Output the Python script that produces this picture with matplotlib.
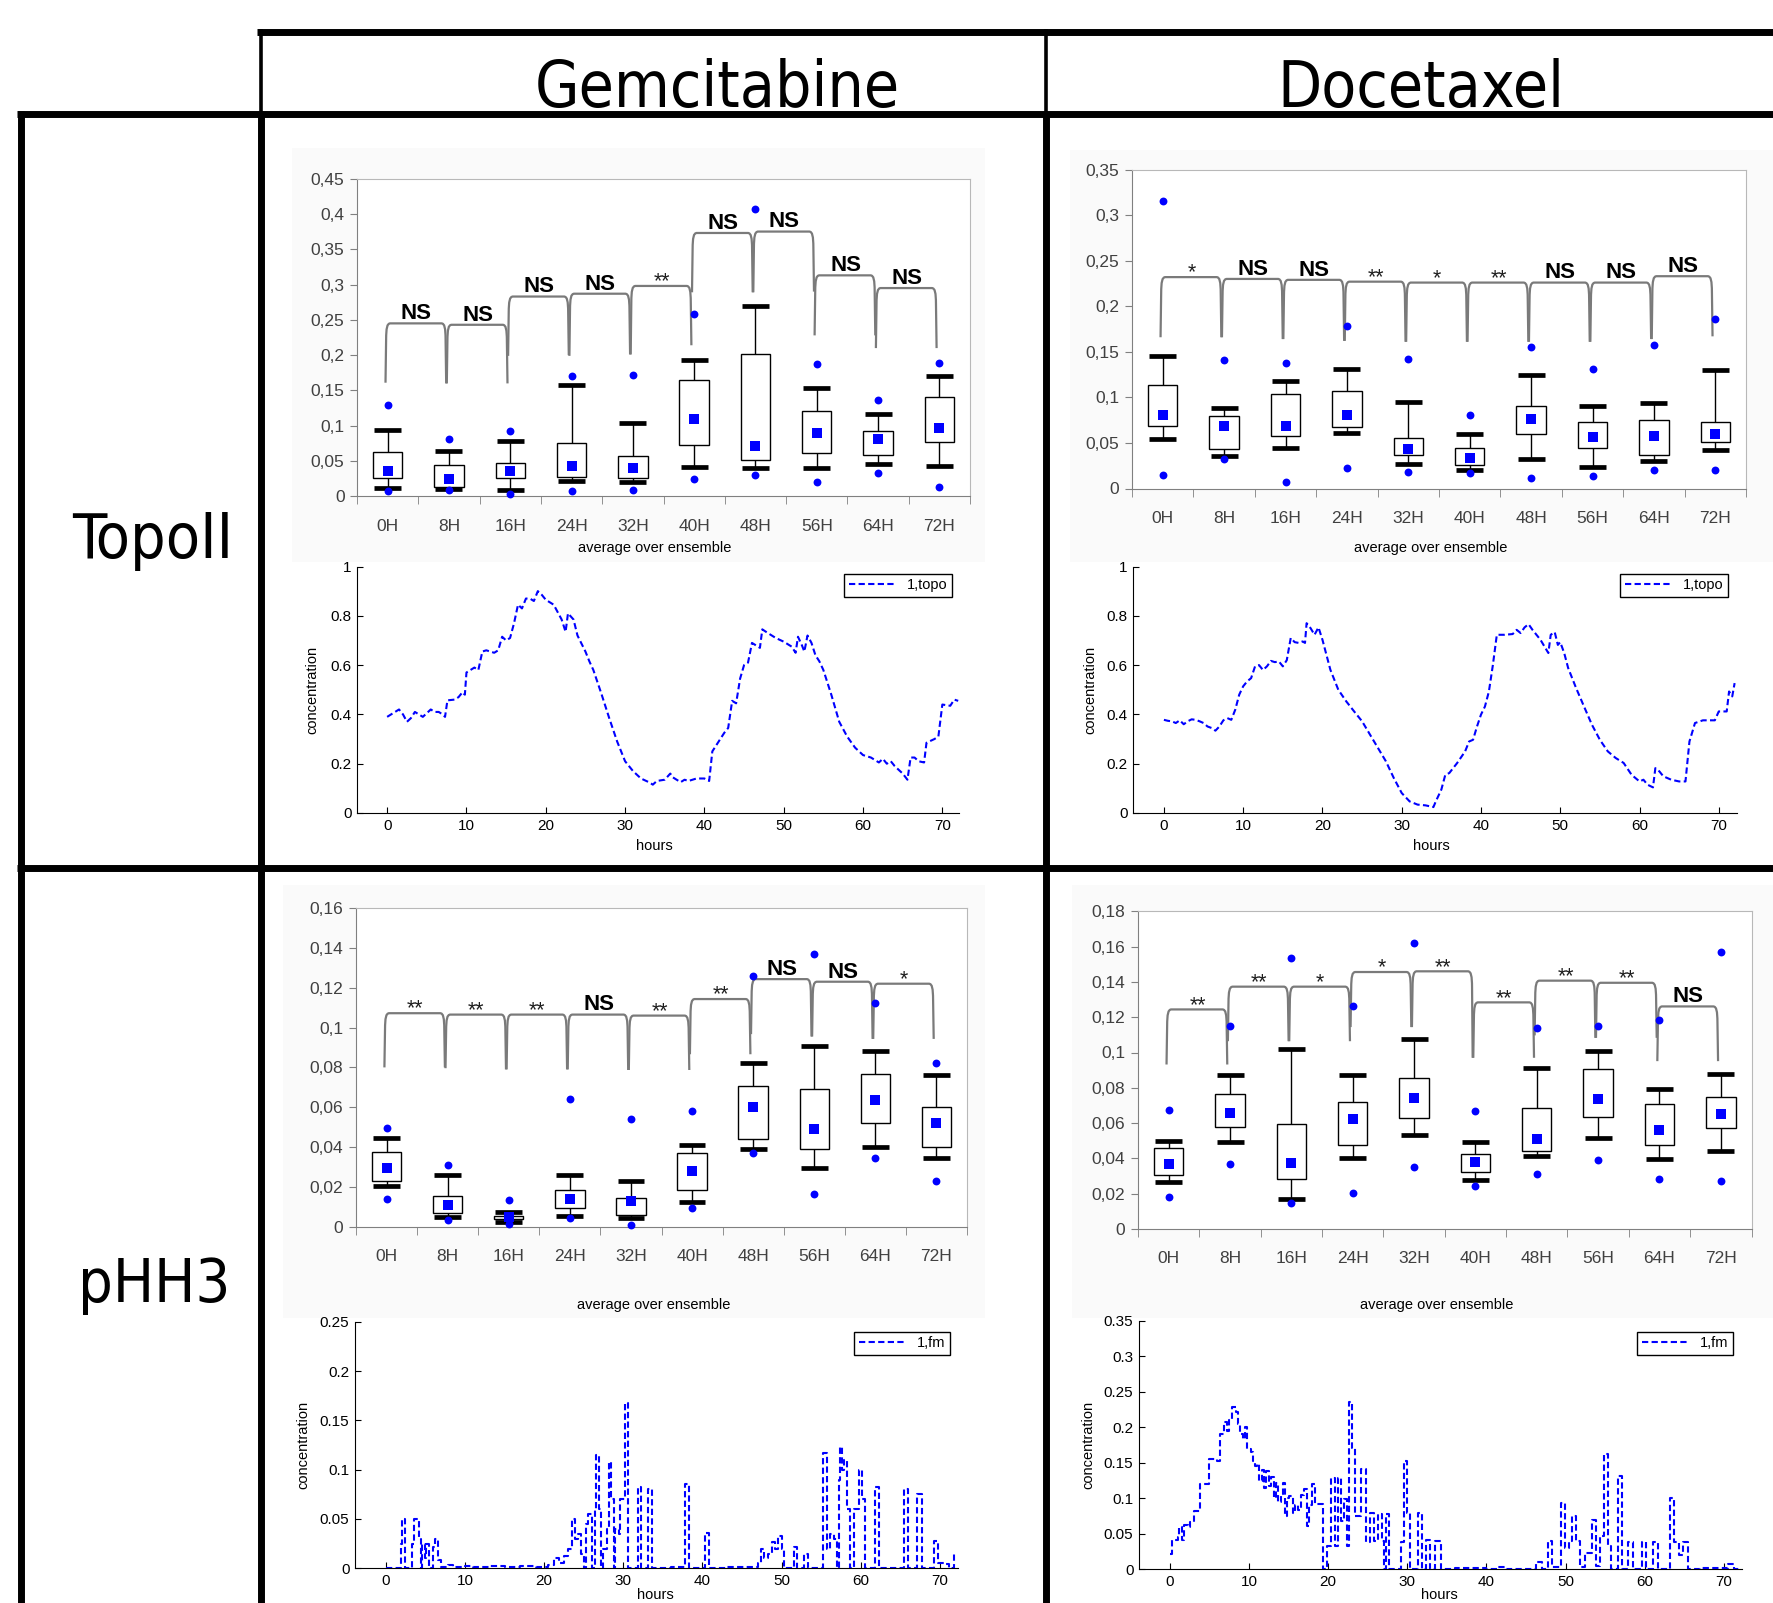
import numpy as np
import matplotlib
matplotlib.use("Agg")
import matplotlib.pyplot as plt
from matplotlib.lines import Line2D
from matplotlib.patches import PathPatch, Rectangle
from matplotlib.path import Path

plt.rcParams["font.family"] = ["Liberation Sans", "DejaVu Sans"]

W, H = 1773, 1603
BIG_FONT = ["DejaVu Sans Condensed", "DejaVu Sans"]
BLUE = "#0000ff"

drugs = ["Gemcitabine", "Docetaxel"]
row_names = ["TopoII", "pHH3"]
categories = ["0H", "8H", "16H", "24H", "32H", "40H", "48H", "56H", "64H", "72H"]

# ---- box plots: Gemcitabine / TopoII
gem_topo_hi = [0.094, 0.064, 0.079, 0.158, 0.104, 0.193, 0.270, 0.153, 0.116, 0.170]
gem_topo_q3 = [0.063, 0.044, 0.047, 0.075, 0.057, 0.165, 0.201, 0.121, 0.093, 0.141]
gem_topo_q1 = [0.026, 0.014, 0.026, 0.0275, 0.026, 0.073, 0.051, 0.061, 0.059, 0.077]
gem_topo_lo = [0.012, 0.010, 0.0085, 0.022, 0.020, 0.041, 0.040, 0.040, 0.046, 0.043]
gem_topo_mean = [0.036, 0.024, 0.036, 0.043, 0.040, 0.110, 0.072, 0.090, 0.081, 0.097]
gem_topo_max = [0.130, 0.081, 0.092, 0.170, 0.172, 0.258, 0.407, 0.187, 0.136, 0.189]
gem_topo_min = [0.007, 0.0085, 0.004, 0.007, 0.0085, 0.024, 0.030, 0.020, 0.033, 0.014]
gem_topo_br_top = [0.245, 0.243, 0.283, 0.287, 0.298, 0.373, 0.375, 0.313, 0.295]
gem_topo_br_left = [0.161, 0.160, 0.199, 0.199, 0.201, 0.289, 0.289, 0.228, 0.210]
gem_topo_br_right = [0.160, 0.160, 0.200, 0.201, 0.214, 0.289, 0.290, 0.228, 0.210]
gem_topo_sig = ["NS", "NS", "NS", "NS", "**", "NS", "NS", "NS", "NS"]

# ---- box plots: Docetaxel / TopoII
doc_topo_hi = [0.145, 0.088, 0.118, 0.131, 0.095, 0.060, 0.125, 0.090, 0.094, 0.130]
doc_topo_q3 = [0.114, 0.080, 0.104, 0.107, 0.0555, 0.044, 0.091, 0.073, 0.075, 0.073]
doc_topo_q1 = [0.069, 0.043, 0.058, 0.067, 0.0365, 0.026, 0.060, 0.044, 0.0365, 0.0515]
doc_topo_lo = [0.054, 0.036, 0.044, 0.061, 0.027, 0.020, 0.032, 0.024, 0.030, 0.042]
doc_topo_mean = [0.081, 0.069, 0.069, 0.081, 0.043, 0.034, 0.076, 0.057, 0.058, 0.060]
doc_topo_max = [0.316, 0.141, 0.138, 0.178, 0.142, 0.081, 0.155, 0.131, 0.157, 0.186]
doc_topo_min = [0.015, 0.032, 0.0066, 0.023, 0.018, 0.017, 0.012, 0.014, 0.020, 0.020]
doc_topo_br_top = [0.232, 0.230, 0.229, 0.227, 0.226, 0.226, 0.226, 0.226, 0.233]
doc_topo_br_left = [0.166, 0.166, 0.164, 0.162, 0.161, 0.161, 0.161, 0.161, 0.164]
doc_topo_br_right = [0.166, 0.164, 0.162, 0.161, 0.161, 0.161, 0.161, 0.164, 0.167]
doc_topo_sig = ["*", "NS", "NS", "**", "*", "**", "NS", "NS", "NS"]

# ---- box plots: Gemcitabine / pHH3
gem_phh3_hi = [0.0444, 0.0258, 0.0072, 0.0258, 0.0230, 0.0409, 0.0823, 0.0905, 0.088, 0.0764]
gem_phh3_q3 = [0.0377, 0.0156, 0.0054, 0.0186, 0.0147, 0.0370, 0.0707, 0.069, 0.0766, 0.0603]
gem_phh3_q1 = [0.0231, 0.0070, 0.0037, 0.0092, 0.0057, 0.0186, 0.0441, 0.0389, 0.0523, 0.0402]
gem_phh3_lo = [0.0204, 0.0050, 0.0023, 0.0054, 0.0045, 0.0124, 0.039, 0.0293, 0.0402, 0.0343]
gem_phh3_mean = [0.0293, 0.0107, 0.0047, 0.0141, 0.0129, 0.0281, 0.060, 0.0489, 0.0635, 0.0519]
gem_phh3_max = [0.0496, 0.031, 0.0137, 0.0642, 0.0541, 0.0583, 0.1258, 0.1369, 0.1122, 0.0821]
gem_phh3_min = [0.0141, 0.0034, 0.0012, 0.0045, 0.0007, 0.0095, 0.0372, 0.0164, 0.0343, 0.0228]
gem_phh3_br_top = [0.1072, 0.1065, 0.1065, 0.1065, 0.106, 0.1143, 0.1243, 0.123, 0.122]
gem_phh3_br_left = [0.080, 0.0796, 0.079, 0.079, 0.0787, 0.0866, 0.0967, 0.0955, 0.0943]
gem_phh3_br_right = [0.080, 0.079, 0.079, 0.0787, 0.0787, 0.0866, 0.0955, 0.0943, 0.0943]
gem_phh3_sig = ["**", "**", "**", "NS", "**", "**", "NS", "NS", "*"]

# ---- box plots: Docetaxel / pHH3
doc_phh3_hi = [0.0501, 0.0874, 0.1019, 0.0874, 0.1078, 0.0495, 0.0915, 0.1006, 0.0796, 0.0881]
doc_phh3_q3 = [0.0458, 0.0766, 0.0596, 0.0718, 0.0858, 0.0425, 0.0686, 0.0909, 0.0709, 0.0747]
doc_phh3_q1 = [0.0306, 0.0577, 0.0284, 0.0478, 0.063, 0.0321, 0.0441, 0.0637, 0.0478, 0.0571]
doc_phh3_lo = [0.0265, 0.0495, 0.017, 0.0403, 0.0535, 0.028, 0.0416, 0.0514, 0.0397, 0.0442]
doc_phh3_mean = [0.0369, 0.0658, 0.0374, 0.0624, 0.0741, 0.0382, 0.0509, 0.0737, 0.0562, 0.0652]
doc_phh3_max = [0.0677, 0.115, 0.1535, 0.1261, 0.1622, 0.0671, 0.1136, 0.115, 0.1182, 0.1569]
doc_phh3_min = [0.018, 0.0369, 0.0147, 0.0202, 0.0352, 0.0246, 0.031, 0.039, 0.0284, 0.0274]
doc_phh3_br_top = [0.1244, 0.1373, 0.1373, 0.1456, 0.146, 0.1284, 0.1407, 0.1395, 0.1261]
doc_phh3_br_left = [0.0932, 0.1064, 0.1064, 0.1144, 0.1144, 0.097, 0.1097, 0.1083, 0.0951]
doc_phh3_br_right = [0.0932, 0.1064, 0.1064, 0.1144, 0.097, 0.097, 0.1083, 0.1083, 0.0951]
doc_phh3_sig = ["**", "**", "*", "*", "**", "**", "**", "**", "NS"]

# ---- simulated ensemble averages
gem_topo_hours = [0, 0.5, 1, 1.5, 2, 2.5, 3, 3.5, 4, 4.5, 5, 5.5, 6, 6.5, 7, 7.3, 7.6, 8.5, 9, 9.5,
                  9.8, 10, 10.5, 11, 11.5, 12, 12.5, 13, 13.5, 14, 14.5, 15, 15.5, 16, 16.5, 17,
                  17.5, 18, 18.5, 19, 19.5, 20, 21, 22, 22.5, 22.8, 23.5, 24, 25, 25.5, 26, 27,
                  28, 29, 30, 31, 32, 33, 33.5, 34, 35, 35.7, 36, 37, 37.5, 38, 39, 40, 40.6, 41,
                  42, 42.5, 43, 43.5, 44, 44.5, 45, 45.5, 46, 46.5, 47, 47.3, 48, 49, 50, 51, 51.5,
                  51.8, 52.3, 52.6, 53, 53.5, 54, 54.5, 55, 56, 57, 58, 59, 60, 61, 62, 62.5, 63,
                  63.5, 64, 65, 65.6, 66, 66.5, 67, 67.7, 68, 69, 69.5, 70, 71, 71.5, 72]
gem_topo_conc = [0.39, 0.40, 0.41, 0.42, 0.40, 0.37, 0.385, 0.41, 0.40, 0.39, 0.405, 0.42, 0.41,
                 0.41, 0.40, 0.39, 0.457, 0.46, 0.47, 0.49, 0.48, 0.57, 0.58, 0.59, 0.58, 0.655,
                 0.66, 0.655, 0.65, 0.66, 0.715, 0.70, 0.71, 0.77, 0.845, 0.83, 0.87, 0.87, 0.86,
                 0.90, 0.885, 0.865, 0.845, 0.785, 0.735, 0.81, 0.785, 0.72, 0.655, 0.615, 0.58,
                 0.485, 0.385, 0.29, 0.21, 0.17, 0.14, 0.125, 0.115, 0.13, 0.135, 0.16, 0.145,
                 0.125, 0.135, 0.13, 0.14, 0.14, 0.13, 0.25, 0.30, 0.325, 0.345, 0.455, 0.445,
                 0.545, 0.60, 0.61, 0.69, 0.68, 0.67, 0.745, 0.73, 0.71, 0.695, 0.675, 0.65,
                 0.715, 0.68, 0.655, 0.72, 0.69, 0.64, 0.615, 0.58, 0.48, 0.37, 0.31, 0.265,
                 0.235, 0.225, 0.205, 0.22, 0.20, 0.21, 0.19, 0.16, 0.135, 0.225, 0.225, 0.21,
                 0.205, 0.285, 0.30, 0.31, 0.44, 0.435, 0.46, 0.455]

doc_topo_hours = [0, 0.5, 1, 1.5, 2, 2.5, 3, 3.5, 4, 4.5, 5, 5.5, 6, 6.5, 7, 7.5, 8, 8.5, 9, 9.5,
                  10, 10.5, 11, 11.5, 12, 12.5, 13, 13.5, 14, 14.5, 15, 15.5, 16, 16.5, 17, 17.5,
                  17.8, 18, 18.5, 19, 19.5, 20, 20.5, 21, 22, 23, 24, 25, 26, 27, 28, 29, 30, 31,
                  32, 33, 34, 34.3, 35, 35.5, 36, 37, 38, 38.5, 39, 39.5, 40, 40.5, 41, 41.5, 42,
                  43, 44, 44.5, 45, 45.5, 46, 46.5, 47, 47.5, 48, 48.5, 48.8, 49.3, 49.7, 50, 50.5,
                  51, 52, 53, 54, 55, 56, 57, 58, 59, 60, 60.5, 61, 61.7, 62, 62.5, 63, 64, 65,
                  65.8, 66.3, 67, 68, 69, 69.5, 70, 71, 71.3, 71.7, 72]
doc_topo_conc = [0.378, 0.374, 0.372, 0.365, 0.376, 0.36, 0.372, 0.38, 0.378, 0.372, 0.365, 0.351,
                 0.345, 0.334, 0.351, 0.376, 0.385, 0.378, 0.419, 0.48, 0.514, 0.534, 0.547, 0.595,
                 0.60, 0.58, 0.595, 0.617, 0.612, 0.615, 0.595, 0.62, 0.71, 0.693, 0.69, 0.696,
                 0.69, 0.77, 0.75, 0.723, 0.753, 0.703, 0.642, 0.581, 0.50, 0.453, 0.412, 0.372,
                 0.318, 0.264, 0.21, 0.142, 0.081, 0.047, 0.034, 0.031, 0.024, 0.047, 0.095, 0.155,
                 0.162, 0.203, 0.25, 0.29, 0.297, 0.351, 0.399, 0.432, 0.493, 0.60, 0.723, 0.723,
                 0.726, 0.743, 0.73, 0.753, 0.766, 0.743, 0.723, 0.703, 0.676, 0.649, 0.723, 0.734,
                 0.682, 0.693, 0.649, 0.588, 0.507, 0.432, 0.358, 0.297, 0.25, 0.223, 0.203, 0.155,
                 0.128, 0.135, 0.115, 0.104, 0.182, 0.169, 0.149, 0.135, 0.128, 0.128, 0.29, 0.365,
                 0.376, 0.376, 0.376, 0.412, 0.412, 0.493, 0.473, 0.527]

gem_phh3_hours = [0, 1.9, 2.1, 2.4, 3.3, 3.6, 4.2, 4.5, 4.6, 5.0, 5.1, 5.5, 5.9, 6.2, 6.6, 7.0, 7.8,
                  8.5, 10, 11, 13, 15, 17, 19, 20.5, 21.3, 21.9, 22.5, 23.0, 23.5, 23.9, 24.3, 24.7,
                  25.0, 25.3, 25.6, 26.0, 26.4, 26.6, 26.9, 27.2, 27.5, 27.9, 28.2, 28.5, 28.8,
                  29.0, 29.4, 29.6, 30.2, 30.6, 31.8, 32.2, 33.1, 33.6, 36, 37.8, 38.3, 40.3, 40.8,
                  43, 45, 47.0, 47.4, 47.8, 48.3, 48.8, 49.2, 49.6, 50.0, 50.3, 51.6, 52.0, 52.9,
                  53.3, 55.3, 55.8, 56.1, 56.6, 57.0, 57.2, 57.4, 57.7, 57.9, 58.3, 58.6, 59.2,
                  59.8, 60.2, 60.5, 61.8, 62.3, 65.5, 66.0, 67.1, 67.7, 69.3, 69.8, 70.6, 71.2,
                  71.8, 72.0]
gem_phh3_conc = [0.0005, 0.025, 0.05, 0.0, 0.025, 0.05, 0.03, 0.0, 0.025, 0.01, 0.025, 0.0, 0.022,
                 0.03, 0.008, 0.001, 0.003, 0.001, 0.002, 0.001, 0.002, 0.001, 0.002, 0.001, 0.003,
                 0.01, 0.005, 0.012, 0.02, 0.05, 0.03, 0.035, 0.015, 0.0, 0.045, 0.055, 0.0, 0.06,
                 0.115, 0.06, 0.0, 0.02, 0.04, 0.108, 0.07, 0.0, 0.04, 0.035, 0.07, 0.168, 0.0,
                 0.082, 0.0, 0.08, 0.0, 0.001, 0.085, 0.0, 0.036, 0.0, 0.001, 0.001, 0.005, 0.02,
                 0.01, 0.015, 0.027, 0.02, 0.033, 0.02, 0.0, 0.022, 0.0, 0.015, 0.0, 0.117, 0.02,
                 0.035, 0.03, 0.0, 0.09, 0.123, 0.1, 0.11, 0.06, 0.0, 0.06, 0.1, 0.07, 0.0, 0.082,
                 0.0, 0.08, 0.0, 0.075, 0.0, 0.028, 0.005, 0.004, 0.0, 0.015, 0.015]

doc_phh3_hours = [0, 0.3, 1.0, 1.2, 1.5, 1.8, 2.3, 2.6, 3.0, 3.8, 4.9, 6.0, 6.3, 6.8, 7.2, 7.5, 7.8,
                  8.3, 8.6, 8.9, 9.2, 9.5, 9.8, 10.2, 10.5, 10.8, 11.0, 11.3, 11.6, 11.9, 12.1,
                  12.5, 12.8, 13.1, 13.4, 13.7, 14.0, 14.3, 14.6, 14.8, 15.1, 15.5, 15.8, 16.2,
                  16.6, 17.0, 17.3, 17.6, 18.0, 18.3, 19.3, 19.8, 20.4, 20.9, 21.2, 21.6, 22.0,
                  22.4, 22.7, 23.0, 23.4, 24.2, 24.8, 25.3, 25.8, 26.3, 26.8, 27.0, 27.3, 27.7,
                  29.2, 29.6, 30.0, 30.3, 31.3, 31.8, 32.4, 32.9, 33.5, 34.2, 36, 40, 41.5, 42.5,
                  46.3, 47.0, 47.8, 48.3, 49.4, 49.9, 50.4, 50.8, 51.3, 51.8, 52.5, 53.3, 53.8,
                  54.3, 54.9, 55.4, 55.8, 56.6, 57.1, 57.9, 58.5, 59.6, 60.2, 61.1, 61.7, 63.2,
                  63.7, 64.3, 64.9, 65.5, 67, 70.5, 71.3, 72]
doc_phh3_conc = [0.021, 0.042, 0.045, 0.059, 0.042, 0.063, 0.059, 0.066, 0.082, 0.12, 0.155, 0.153,
                 0.19, 0.207, 0.195, 0.21, 0.228, 0.221, 0.205, 0.19, 0.183, 0.2, 0.17, 0.165,
                 0.153, 0.145, 0.148, 0.125, 0.14, 0.115, 0.138, 0.117, 0.13, 0.1, 0.122, 0.095,
                 0.106, 0.122, 0.075, 0.1, 0.103, 0.08, 0.09, 0.083, 0.105, 0.113, 0.061, 0.09,
                 0.12, 0.092, 0.0, 0.033, 0.129, 0.033, 0.129, 0.068, 0.099, 0.033, 0.235, 0.171,
                 0.075, 0.141, 0.038, 0.08, 0.04, 0.078, 0.04, 0.0, 0.078, 0.0, 0.038, 0.153,
                 0.08, 0.0, 0.08, 0.0, 0.042, 0.0, 0.04, 0.0, 0.002, 0.001, 0.003, 0.001, 0.01,
                 0.001, 0.04, 0.003, 0.094, 0.03, 0.04, 0.075, 0.04, 0.003, 0.023, 0.07, 0.005,
                 0.047, 0.162, 0.033, 0.0, 0.131, 0.0, 0.038, 0.0, 0.038, 0.0, 0.038, 0.0, 0.1,
                 0.038, 0.02, 0.038, 0.0, 0.002, 0.007, 0.0, 0.0]


fig = plt.figure(figsize=(W / 100, H / 100), dpi=100)


def rect(x0, y0, x1, y1):
    # pixel box (top-left origin) -> figure fraction
    return [x0 / W, 1 - y1 / H, (x1 - x0) / W, (y1 - y0) / H]


def fig_line(xs, ys, lw):
    fig.add_artist(Line2D([x / W for x in xs], [1 - y / H for y in ys], color="black",
                          lw=lw, solid_capstyle="butt", transform=fig.transFigure, zorder=10))


def bracket(ax, xl, xr, yl, yr, yt, ymax):
    rx = 0.08
    ry = 0.05 * ymax
    verts = [(xl, yl), (xl + 0.01, yt - ry),
             (xl + 0.012, yt - 0.3 * ry), (xl + 0.3 * rx, yt), (xl + rx, yt),
             (xr - rx, yt),
             (xr - 0.3 * rx, yt), (xr - 0.012, yt - 0.3 * ry), (xr - 0.01, yt - ry),
             (xr, yr)]
    codes = [Path.MOVETO, Path.LINETO, Path.CURVE4, Path.CURVE4, Path.CURVE4, Path.LINETO,
             Path.CURVE4, Path.CURVE4, Path.CURVE4, Path.LINETO]
    ax.add_patch(PathPatch(Path(verts, codes), fill=False, edgecolor="#7a7a7a", lw=1.6,
                           zorder=2, clip_on=False))


def box_panel(ax, hi, q3, q1, lo, mean, top_pt, bot_pt, br_top, br_left, br_right, sig,
              ymax, ystep):
    x = np.arange(len(categories))
    ax.vlines(x, q3, hi, color="black", lw=1.0, zorder=2)
    ax.vlines(x, lo, q1, color="black", lw=1.0, zorder=2)
    ax.bar(x, np.array(q3) - np.array(q1), bottom=q1, width=0.48, facecolor="white",
           edgecolor="black", lw=1.0, zorder=3)
    ax.hlines(hi, x - 0.22, x + 0.22, color="black", lw=3.4, zorder=4)
    ax.hlines(lo, x - 0.22, x + 0.22, color="black", lw=3.4, zorder=4)
    ax.scatter(x, top_pt, s=32, color=BLUE, lw=0, zorder=5, clip_on=False)
    ax.scatter(x, bot_pt, s=32, color=BLUE, lw=0, zorder=5, clip_on=False)
    ax.scatter(x, mean, marker="s", s=48, color=BLUE, lw=0, zorder=6)
    for i in range(len(br_top)):
        bracket(ax, i - 0.035, i + 1 - 0.045, br_left[i], br_right[i], br_top[i], ymax)
        ns = sig[i] == "NS"
        ax.annotate(sig[i], (i + 0.47, br_top[i]), xytext=(0, 3 if ns else -1),
                    textcoords="offset points", ha="center", va="baseline",
                    fontsize=16 if ns else 15.5, fontweight="bold" if ns else "normal",
                    color="black" if ns else "#1e1e1e")
    ax.set_xlim(-0.5, 9.5)
    ax.set_ylim(0, ymax)
    yt = np.round(np.arange(0, ymax + ystep / 2, ystep), 3)
    ax.set_yticks(yt, [f"{v:g}".replace(".", ",") for v in yt])
    ax.set_xticks(x, categories)
    ax.set_xticks(np.arange(-0.5, 10, 1), minor=True)
    ax.tick_params(axis="x", which="major", length=0, pad=16, labelsize=12.5,
                   labelcolor="#404040")
    ax.tick_params(axis="x", which="minor", length=6, color="#808080")
    ax.tick_params(axis="y", length=5, color="#808080", labelsize=12.5, labelcolor="#404040",
                   pad=4)
    for s in ["left", "bottom"]:
        ax.spines[s].set_color("#808080")
    for s in ["top", "right"]:
        ax.spines[s].set_color("#b8b8b8")


def line_panel(ax, hours, conc, label, xlim, ymax, yticks, ylabels, steps, legend_corner):
    ax.plot(hours, conc, color=BLUE, lw=1.5, ls=(0, (3, 1.6)),
            drawstyle="steps-post" if steps else "default", label=label)
    ax.set_xlim(*xlim)
    ax.set_ylim(0, ymax)
    ax.set_xticks(range(0, 71, 10))
    ax.set_yticks(yticks, ylabels)
    ax.tick_params(direction="in", length=4, labelsize=11, pad=4, width=0.8)
    for s in ["top", "right"]:
        ax.spines[s].set_visible(False)
    for s in ["left", "bottom"]:
        ax.spines[s].set_linewidth(0.8)
    ax.set_facecolor("none")
    leg = ax.legend(loc="upper right", bbox_to_anchor=(legend_corner[0] / W, 1 - legend_corner[1] / H),
                    bbox_transform=fig.transFigure, borderaxespad=0, fontsize=10.5, fancybox=False,
                    framealpha=1, edgecolor="black", handlelength=3.2, handletextpad=0.8,
                    borderpad=0.3)
    leg.get_frame().set_linewidth(1.0)


# light chart areas behind the spreadsheet box plots
for x0, y0, x1, y1 in [(292, 148, 985, 562), (1070, 150, 1773, 562),
                       (283, 885, 985, 1318), (1072, 885, 1773, 1318)]:
    fig.add_artist(Rectangle((x0 / W, 1 - y1 / H), (x1 - x0) / W, (y1 - y0) / H,
                             transform=fig.transFigure, facecolor="#fafafa",
                             edgecolor="none", zorder=-1))

# box plot panels
ax = fig.add_axes(rect(357, 178.6, 970, 496.4))
box_panel(ax, gem_topo_hi, gem_topo_q3, gem_topo_q1, gem_topo_lo, gem_topo_mean, gem_topo_max,
          gem_topo_min, gem_topo_br_top, gem_topo_br_left, gem_topo_br_right, gem_topo_sig,
          0.45, 0.05)
ax = fig.add_axes(rect(1132, 169.6, 1746, 488.5))
box_panel(ax, doc_topo_hi, doc_topo_q3, doc_topo_q1, doc_topo_lo, doc_topo_mean, doc_topo_max,
          doc_topo_min, doc_topo_br_top, doc_topo_br_left, doc_topo_br_right, doc_topo_sig,
          0.35, 0.05)
ax = fig.add_axes(rect(356, 908, 967, 1226.8))
box_panel(ax, gem_phh3_hi, gem_phh3_q3, gem_phh3_q1, gem_phh3_lo, gem_phh3_mean, gem_phh3_max,
          gem_phh3_min, gem_phh3_br_top, gem_phh3_br_left, gem_phh3_br_right, gem_phh3_sig,
          0.16, 0.02)
ax = fig.add_axes(rect(1138, 911.3, 1751.5, 1229))
box_panel(ax, doc_phh3_hi, doc_phh3_q3, doc_phh3_q1, doc_phh3_lo, doc_phh3_mean, doc_phh3_max,
          doc_phh3_min, doc_phh3_br_top, doc_phh3_br_left, doc_phh3_br_right, doc_phh3_sig,
          0.18, 0.02)

for cx, cy in [(655, 548), (1431, 548), (653.5, 1305), (1437, 1305)]:
    fig.text(cx / W, 1 - cy / H, "average over ensemble", ha="center", va="center", fontsize=10.5)

# simulation panels
topo_ticks = [0, 0.2, 0.4, 0.6, 0.8, 1]
topo_labels = ["0", "0.2", "0.4", "0.6", "0.8", "1"]
ax = fig.add_axes(rect(357, 566.5, 959, 813))
line_panel(ax, gem_topo_hours, gem_topo_conc, "1,topo", (-3.8, 72.1), 1, topo_ticks,
           topo_labels, False, (952, 574))
ax = fig.add_axes(rect(1133, 566.5, 1737, 813))
line_panel(ax, doc_topo_hours, doc_topo_conc, "1,topo", (-3.9, 72.3), 1, topo_ticks,
           topo_labels, False, (1728, 574))
ax = fig.add_axes(rect(355, 1321.8, 958, 1568.3))
line_panel(ax, gem_phh3_hours, gem_phh3_conc, "1,fm", (-3.9, 72.3), 0.25,
           [0, 0.05, 0.1, 0.15, 0.2, 0.25], ["0", "0.05", "0.1", "0.15", "0.2", "0.25"],
           True, (950, 1332))
ax = fig.add_axes(rect(1139, 1320.6, 1742, 1569.4))
line_panel(ax, doc_phh3_hours, doc_phh3_conc, "1,fm", (-3.9, 72.3), 0.35,
           [0, 0.05, 0.1, 0.15, 0.2, 0.25, 0.3, 0.35],
           ["0", "0.05", "0.1", "0.15", "0.2", "0.25", "0.3", "0.35"], True, (1733, 1332))

for cx, cy in [(312, 690), (1090, 690), (303, 1445), (1088, 1445)]:
    fig.text(cx / W, 1 - cy / H, "concentration", rotation=90, ha="center", va="center",
             fontsize=10.5)
for cx, cy in [(654, 846), (1431, 846), (655, 1595), (1439, 1595)]:
    fig.text(cx / W, 1 - cy / H, "hours", ha="center", va="center", fontsize=10.5)

# table frame and headings
fig_line([257, 1773], [32, 32], 5)
fig_line([17, 1773], [114, 114], 5)
fig_line([17, 1773], [868, 868], 5)
fig_line([21, 21], [111, 1603], 5)
fig_line([261, 261], [29, 114], 2.6)
fig_line([261, 261], [114, 1603], 5)
fig_line([1046, 1046], [29, 114], 2.6)
fig_line([1046, 1046], [114, 1603], 5)

fig.text(717 / W, 1 - 107 / H, drugs[0], ha="center", va="baseline", fontsize=46,
         family=BIG_FONT, fontstretch="condensed")
fig.text(1421 / W, 1 - 107 / H, drugs[1], ha="center", va="baseline", fontsize=46,
         family=BIG_FONT, fontstretch="condensed")
fig.text(153 / W, 1 - 558 / H, row_names[0], ha="center", va="baseline", fontsize=45,
         family=BIG_FONT, fontstretch="condensed")
fig.text(154 / W, 1 - 1302 / H, row_names[1], ha="center", va="baseline", fontsize=44,
         family=BIG_FONT, fontstretch="condensed")

fig.savefig("out.png", dpi=100)
